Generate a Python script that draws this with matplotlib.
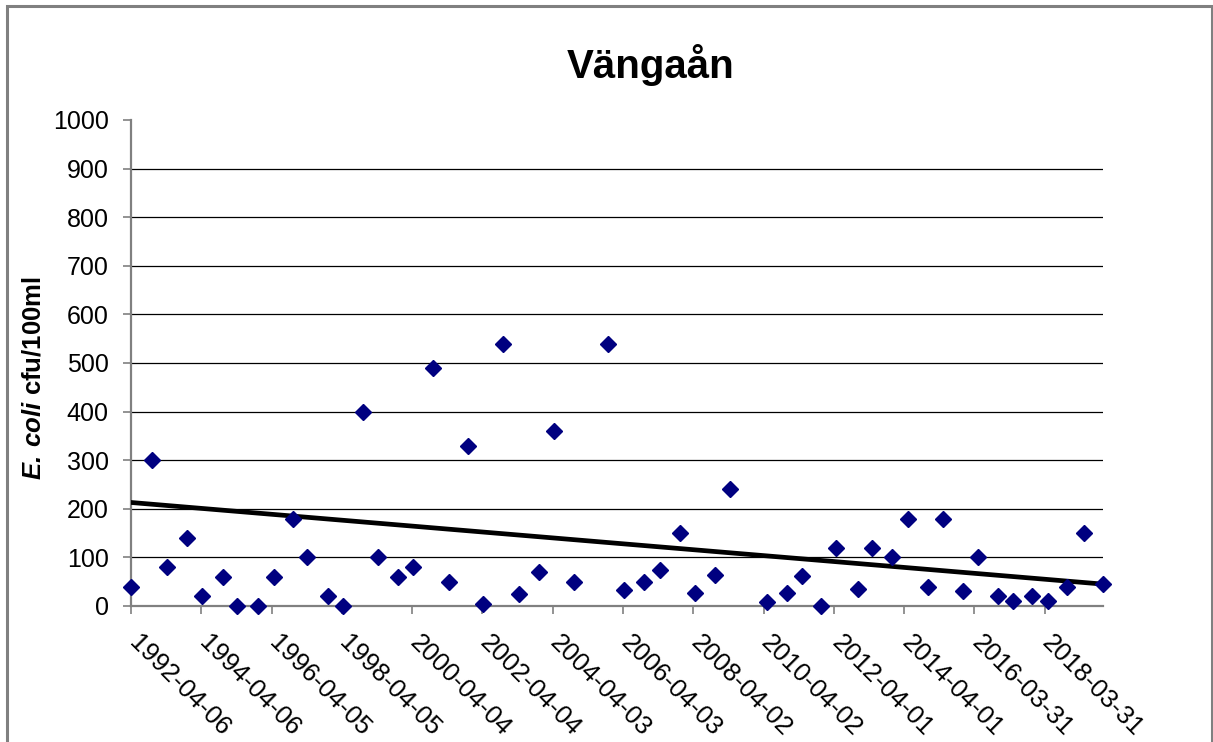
import matplotlib
matplotlib.use("Agg")
import matplotlib.pyplot as plt
import matplotlib.patches as mpatches
import matplotlib.transforms as mtransforms
import numpy as np

plt.rcParams["font.family"] = ["Liberation Sans", "DejaVu Sans"]
plt.rcParams["mathtext.fontset"] = "custom"
plt.rcParams["mathtext.bfit"] = "Liberation Sans:italic:bold"
plt.rcParams["mathtext.bf"] = "Liberation Sans:bold"

# sampling dates and E. coli counts (cfu/100ml)
sample_dates = [
    "1992-04-06", "1992-11-07", "1993-04-12", "1993-11-06", "1994-04-14",
    "1994-11-14", "1995-04-15", "1995-11-13", "1996-05-01", "1996-11-11",
    "1997-04-12", "1997-11-15", "1998-04-14", "1998-11-14", "1999-04-19",
    "1999-11-13", "2000-04-10", "2000-11-04", "2001-04-19", "2001-11-09",
    "2002-04-14", "2002-11-08", "2003-04-23", "2003-11-14", "2004-04-21",
    "2004-11-12", "2005-11-03", "2006-04-18", "2006-11-12", "2007-04-27",
    "2007-11-15", "2008-04-25", "2008-11-13", "2009-04-24", "2010-05-10",
    "2010-12-01", "2011-05-02", "2011-11-19", "2012-04-26", "2012-12-04",
    "2013-05-02", "2013-11-26", "2014-05-07", "2014-12-05", "2015-05-06",
    "2015-12-04", "2016-05-08", "2016-12-05", "2017-05-02", "2017-11-23",
    "2018-05-08", "2018-11-22", "2019-05-10", "2019-11-27",
]
ecoli = [
    40, 300, 80, 140, 20, 60, 0, 0, 60, 180,
    100, 20, 0, 400, 100, 60, 80, 490, 50, 330,
    5, 540, 25, 70, 360, 50, 540, 33, 50, 75,
    150, 27, 63, 240, 9, 26, 62, 0, 120, 35,
    120, 100, 180, 40, 180, 30, 100, 20, 10, 20,
    10, 40, 150, 45,
]
# trendline values at first and last sample
trend_values = [213, 45]

tick_labels = [
    "1992-04-06", "1994-04-06", "1996-04-05", "1998-04-05", "2000-04-04",
    "2002-04-04", "2004-04-03", "2006-04-03", "2008-04-02", "2010-04-02",
    "2012-04-01", "2014-04-01", "2016-03-31", "2018-03-31",
]
y_ticks = [0, 100, 200, 300, 400, 500, 600, 700, 800, 900, 1000]

x = np.array(sample_dates, dtype="datetime64[D]")
y = np.array(ecoli, dtype=float)
xt = np.array(tick_labels, dtype="datetime64[D]")
trend_x = np.array([x[0], x[-1]])

fig = plt.figure(figsize=(12.13, 7.42), dpi=100)
ax = fig.add_axes([0.108, 0.1833, 0.8013, 0.655])

GRAY = "#808080"

ax.plot(trend_x, trend_values, color="black", lw=3.4, zorder=3)
ax.plot(x, y, linestyle="none", marker="D", markersize=8.4,
        color="#000080", markeredgecolor="#000080", zorder=4, clip_on=False)

ax.set_xlim(x[0], x[-1])
ax.set_ylim(0, 1000)
ax.set_yticks(y_ticks)
ax.set_xticks(xt)
ax.set_xticklabels(tick_labels, rotation=-45, ha="left", va="top",
                   rotation_mode="anchor", fontsize=18.5)
ax.tick_params(axis="y", labelsize=18, length=6, width=1.2, color=GRAY, pad=10)
ax.tick_params(axis="x", length=6, width=1.2, color=GRAY, pad=12)
shift = mtransforms.ScaledTranslation(10 / 100, 0, fig.dpi_scale_trans)
for lbl in ax.get_xticklabels():
    lbl.set_transform(lbl.get_transform() + shift)

ax.yaxis.grid(True, color="black", lw=0.9)
ax.set_axisbelow(True)
gl = ax.get_ygridlines()
gl[0].set_visible(False)
gl[-1].set_visible(False)

for s in ["top", "right"]:
    ax.spines[s].set_visible(False)
for s in ["left", "bottom"]:
    ax.spines[s].set_color(GRAY)
    ax.spines[s].set_linewidth(1.6)

ax.set_ylabel(r"$\mathbfit{E.}\,\mathbfit{coli}$ cfu/100ml", fontsize=18.5,
              fontweight="bold", labelpad=10)
ax.yaxis.set_label_coords(-0.088, 0.47)

fig.text(0.536, 0.912, "Vängaån", ha="center", va="center",
         fontsize=29, fontweight="bold")

# chart area border
fig.patches.append(mpatches.Rectangle(
    (7 / 1213, -0.05), 1205 / 1213, 1.05 - 6 / 742,
    transform=fig.transFigure, fill=False, edgecolor=GRAY, lw=2.2))

fig.savefig("out.png", dpi=100, facecolor="white")
